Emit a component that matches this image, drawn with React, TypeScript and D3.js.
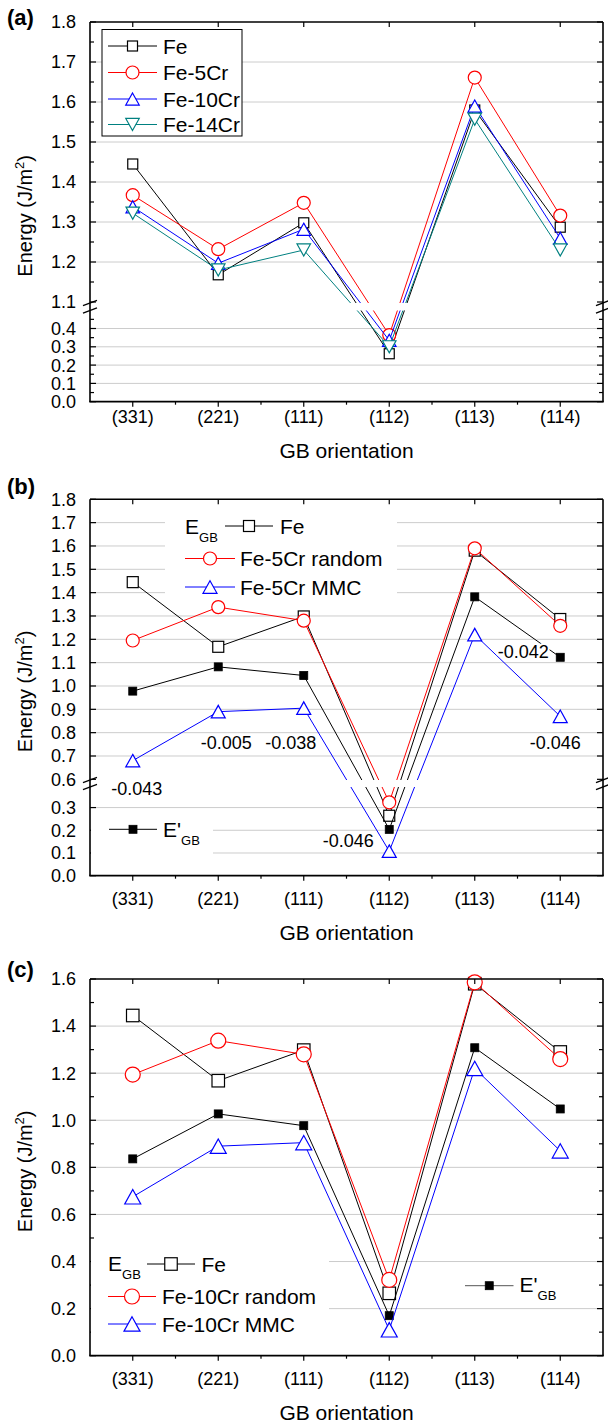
import React from "react";
import * as d3 from "d3";

const categories = ["(331)", "(221)", "(111)", "(112)", "(113)", "(114)"];

// Panel (a)
const feA = [1.445, 1.168, 1.298, 0.262, 1.58, 1.287];
const fe5CrA = [1.367, 1.232, 1.348, 0.364, 1.661, 1.316];
const fe10CrA = [1.338, 1.197, 1.282, 0.335, 1.59, 1.259];
const fe14CrA = [1.322, 1.18, 1.23, 0.3, 1.557, 1.23];

// Panel (b)
const feB = [1.445, 1.168, 1.298, 0.264, 1.58, 1.287];
const fe5CrRandomB = [1.195, 1.338, 1.28, 0.323, 1.59, 1.258];
const fe5CrMmcB = [0.68, 0.89, 0.905, 0.108, 1.22, 0.87];
const ePrimeB = [0.978, 1.082, 1.045, 0.204, 1.382, 1.123];
const annotTextB = ["-0.043", "-0.005", "-0.038", "-0.046", "-0.046", "-0.042"];
const annotCatB = [0, 1, 2, 3, 5, 5];

// Panel (c)
const feC = [1.445, 1.168, 1.298, 0.265, 1.58, 1.29];
const fe10CrRandomC = [1.194, 1.338, 1.28, 0.322, 1.586, 1.26];
const fe10CrMmcC = [0.675, 0.89, 0.905, 0.11, 1.22, 0.87];
const ePrimeC = [0.836, 1.027, 0.977, 0.17, 1.308, 1.048];

// ticks
const yTicksA = [0, 0.1, 0.2, 0.3, 0.4, 1.1, 1.2, 1.3, 1.4, 1.5, 1.6, 1.7, 1.8];
const yMinorA = [0.05, 0.15, 0.25, 0.35, 0.45, 1.15, 1.25, 1.35, 1.45, 1.55, 1.65, 1.75];
const gridA = [0.1, 0.2, 0.3, 0.4, 1.2, 1.3, 1.4, 1.5, 1.6, 1.7];
const yTicksB = [0, 0.1, 0.2, 0.3, 0.6, 0.7, 0.8, 0.9, 1.0, 1.1, 1.2, 1.3, 1.4, 1.5, 1.6, 1.7, 1.8];
const yMinorB: number[] = [];
const gridB = [0.1, 0.2, 0.3, 0.7, 0.8, 0.9, 1.0, 1.1, 1.2, 1.3, 1.4, 1.5, 1.6, 1.7];
const yTicksC = [0, 0.2, 0.4, 0.6, 0.8, 1.0, 1.2, 1.4, 1.6];
const yMinorC = [0.1, 0.3, 0.5, 0.7, 0.9, 1.1, 1.3, 1.5];
const gridC = [0.2, 0.4, 0.6, 0.8, 1.0, 1.2, 1.4];

const FONT = "'Liberation Sans', Arial, Helvetica, sans-serif";
const X0 = 90;
const X1 = 603;
const TEAL = "#008080";

const x = d3.scalePoint<string>().domain(categories).range([X0, X1]).padding(0.5);
const step = x.step();

type MType = "square" | "circle" | "up" | "down" | "filled";

function Marker({ type, cx, cy, size, color }: { type: MType; cx: number; cy: number; size: number; color: string }) {
  const sw = 1.2;
  if (type === "square")
    return <rect x={cx - size / 2} y={cy - size / 2} width={size} height={size} fill="white" stroke={color} strokeWidth={sw} />;
  if (type === "filled")
    return <rect x={cx - size / 2} y={cy - size / 2} width={size} height={size} fill={color} stroke={color} strokeWidth={0.8} />;
  if (type === "circle") return <circle cx={cx} cy={cy} r={size / 2} fill="white" stroke={color} strokeWidth={sw} />;
  const h = size * 0.9;
  const w = size;
  if (type === "up")
    return (
      <path
        d={`M${cx},${cy - h / 2}L${cx + w / 2},${cy + h / 2}L${cx - w / 2},${cy + h / 2}Z`}
        fill="white"
        stroke={color}
        strokeWidth={sw}
      />
    );
  return (
    <path
      d={`M${cx},${cy + h / 2}L${cx + w / 2},${cy - h / 2}L${cx - w / 2},${cy - h / 2}Z`}
      fill="white"
      stroke={color}
      strokeWidth={sw}
    />
  );
}

interface Series {
  values: number[];
  color: string;
  marker: MType;
  size: number;
}

interface PanelProps {
  label: string;
  labelBaseline: number;
  top: number;
  bottom: number;
  y: d3.ScaleLinear<number, number>;
  yTicks: number[];
  yMinor: number[];
  grid: number[];
  series: Series[];
  band?: [number, number];
  tickBaseline: number;
  titleBaseline: number;
  children?: React.ReactNode;
}

function Panel(p: PanelProps) {
  const { top, bottom, y } = p;
  const fmt = d3.format(".1f");
  const line = (vals: number[]) =>
    d3
      .line<number>()
      .x((_, i) => x(categories[i]) as number)
      .y((d) => y(d))(vals) as string;
  return (
    <g>
      <text x={7} y={p.labelBaseline} fontSize={22} fontWeight="bold" fontFamily={FONT}>
        {p.label}
      </text>
      {p.grid.map((g) => (
        <line key={"g" + g} x1={X0} x2={X1} y1={y(g)} y2={y(g)} stroke="#cccccc" strokeWidth={1} />
      ))}
      {p.series.map((s, si) => (
        <g key={"s" + si}>
          <path d={line(s.values)} fill="none" stroke={s.color} strokeWidth={1} />
          {s.values.map((v, i) => (
            <Marker key={i} type={s.marker} cx={x(categories[i]) as number} cy={y(v)} size={s.size} color={s.color} />
          ))}
        </g>
      ))}
      {p.band && <rect x={X0 + 1} y={p.band[0]} width={X1 - X0 - 2} height={p.band[1] - p.band[0]} fill="white" />}
      <line x1={X0} x2={X0} y1={top} y2={bottom} stroke="black" strokeWidth={1.6} />
      <line x1={X1} x2={X1} y1={top} y2={bottom} stroke="black" strokeWidth={1.6} />
      <line x1={X0} x2={X1} y1={top} y2={top} stroke="black" strokeWidth={1.6} />
      <line x1={X0 - 0.8} x2={X1 + 0.8} y1={bottom} y2={bottom} stroke="black" strokeWidth={1.8} />
      {p.yTicks.map((t) => (
        <g key={"yt" + t}>
          <line x1={X0} x2={X0 + 6} y1={y(t)} y2={y(t)} stroke="black" strokeWidth={1.2} />
          <line x1={X1} x2={X1 - 6} y1={y(t)} y2={y(t)} stroke="black" strokeWidth={1.2} />
          <text x={76} y={y(t) + 6.4} fontSize={18} textAnchor="end" fontFamily={FONT}>
            {fmt(t)}
          </text>
        </g>
      ))}
      {p.yMinor.map((t) => (
        <g key={"ym" + t}>
          <line x1={X0} x2={X0 + 4} y1={y(t)} y2={y(t)} stroke="black" strokeWidth={1.2} />
          <line x1={X1} x2={X1 - 4} y1={y(t)} y2={y(t)} stroke="black" strokeWidth={1.2} />
        </g>
      ))}
      {categories.map((c) => (
        <g key={"xt" + c}>
          <line x1={x(c)} x2={x(c)} y1={bottom} y2={bottom + 5} stroke="black" strokeWidth={1.2} />
          <line x1={x(c)} x2={x(c)} y1={top} y2={top + 5} stroke="black" strokeWidth={1.2} />
          <text x={x(c)} y={p.tickBaseline} fontSize={18} textAnchor="middle" fontFamily={FONT}>
            {c}
          </text>
        </g>
      ))}
      {d3.range(1, categories.length).map((k) => (
        <line key={"xm" + k} x1={X0 + step * k} x2={X0 + step * k} y1={bottom} y2={bottom + 3} stroke="black" strokeWidth={1.2} />
      ))}
      {p.band &&
        [X0, X1].map((ax) =>
          p.band!.map((by, j) => (
            <line key={"bk" + ax + j} x1={ax - 7} y1={by + 2.7} x2={ax + 7} y2={by - 2.7} stroke="black" strokeWidth={1.3} />
          ))
        )}
      <text
        transform={`translate(32, ${(top + bottom) / 2 + 4}) rotate(-90)`}
        textAnchor="middle"
        fontSize={20}
        fontFamily={FONT}
      >
        Energy (J/m<tspan dy={-8} fontSize={13}>2</tspan>
        <tspan dy={8}>)</tspan>
      </text>
      <text x={(X0 + X1) / 2} y={p.titleBaseline} fontSize={21} textAnchor="middle" fontFamily={FONT}>
        GB orientation
      </text>
      {p.children}
    </g>
  );
}

function LegendRow({
  x1,
  x2,
  cy,
  type,
  size,
  color,
  lineColor,
}: {
  x1: number;
  x2: number;
  cy: number;
  type: MType;
  size: number;
  color: string;
  lineColor?: string;
}) {
  return (
    <g>
      <line x1={x1} x2={x2} y1={cy} y2={cy} stroke={lineColor || color} strokeWidth={1} />
      <Marker type={type} cx={(x1 + x2) / 2} cy={cy} size={size} color={color} />
    </g>
  );
}

export default function App() {
  const yA = d3.scaleLinear().domain([0, 0.5, 1.08, 1.8]).range([401.7, 310.2, 310, 22]);
  const yB = d3.scaleLinear().domain([0, 0.38, 0.58, 1.8]).range([875.7, 789.4, 784, 499.3]);
  const yC = d3.scaleLinear().domain([0, 1.6]).range([1355.7, 979]);

  const annotOffsets: [number, number][] = [
    [4, 28],
    [8, 31],
    [-13, 34.5],
    [-41, -11],
    [-5, 26],
    [-37, -5.6],
  ];
  const annotAnchorB = [fe5CrMmcB, fe5CrMmcB, fe5CrMmcB, fe5CrMmcB, fe5CrMmcB, ePrimeB];

  return (
    <div style={{ position: "absolute", left: 0, top: 0 }}>
      <svg width={608} height={1425} style={{ display: "block", background: "white" }}>
        <Panel
          label="(a)"
          labelBaseline={25}
          top={22}
          bottom={401.7}
          y={yA}
          yTicks={yTicksA}
          yMinor={yMinorA}
          grid={gridA}
          band={[303, 310.5]}
          tickBaseline={423}
          titleBaseline={458}
          series={[
            { values: feA, color: "black", marker: "square", size: 10 },
            { values: fe5CrA, color: "#ff0000", marker: "circle", size: 13 },
            { values: fe10CrA, color: "#0000ff", marker: "up", size: 13.5 },
            { values: fe14CrA, color: TEAL, marker: "down", size: 13.5 },
          ]}
        >
          <g fontFamily={FONT} fontSize={21}>
            <rect x={102} y={29.5} width={140} height={106.5} fill="white" stroke="black" strokeWidth={1} />
            <LegendRow x1={108} x2={157} cy={46} type="square" size={10} color="black" />
            <text x={163} y={53.5}>Fe</text>
            <LegendRow x1={108} x2={157} cy={72.5} type="circle" size={13} color="#ff0000" />
            <text x={163} y={80}>Fe-5Cr</text>
            <LegendRow x1={108} x2={157} cy={99} type="up" size={13.5} color="#0000ff" />
            <text x={163} y={106.5}>Fe-10Cr</text>
            <LegendRow x1={108} x2={157} cy={124.5} type="down" size={13.5} color={TEAL} />
            <text x={163} y={132}>Fe-14Cr</text>
          </g>
        </Panel>

        <Panel
          label="(b)"
          labelBaseline={494}
          top={499.3}
          bottom={875.7}
          y={yB}
          yTicks={yTicksB}
          yMinor={yMinorB}
          grid={gridB}
          band={[780, 787]}
          tickBaseline={904.5}
          titleBaseline={940}
          series={[
            { values: feB, color: "black", marker: "square", size: 11 },
            { values: fe5CrRandomB, color: "#ff0000", marker: "circle", size: 13 },
            { values: ePrimeB, color: "black", marker: "filled", size: 8 },
            { values: fe5CrMmcB, color: "#0000ff", marker: "up", size: 14 },
          ]}
        >
          <g fontFamily={FONT} fontSize={21}>
            <rect x={165} y={511} width={232} height={89} fill="white" />
            <text x={185} y={534}>
              E<tspan dy={8} fontSize={13}>GB</tspan>
            </text>
            <LegendRow x1={225} x2={273} cy={526} type="square" size={11} color="black" />
            <text x={280} y={533.5}>Fe</text>
            <LegendRow x1={185} x2={235} cy={558.5} type="circle" size={13} color="#ff0000" />
            <text x={240} y={566}>Fe-5Cr random</text>
            <LegendRow x1={185} x2={235} cy={587} type="up" size={14} color="#0000ff" />
            <text x={240} y={594.5}>Fe-5Cr MMC</text>

            <rect x={91} y={812} width={122} height={50} fill="white" />
            <LegendRow x1={109} x2={157} cy={829.3} type="filled" size={8} color="black" />
            <text x={163} y={837}>
              E'<tspan dy={8} fontSize={13}>GB</tspan>
            </text>
          </g>
          <g fontFamily={FONT} fontSize={18} textAnchor="middle">
            {annotTextB.map((t, i) => {
              const cx = (x(categories[annotCatB[i]]) as number) + annotOffsets[i][0];
              const cy = yB(annotAnchorB[i][annotCatB[i]]) + annotOffsets[i][1];
              return (
                <text
                  key={"an" + i}
                  x={cx}
                  y={cy + 6.4}
                  stroke={i === 5 ? "white" : "none"}
                  strokeWidth={i === 5 ? 4 : 0}
                  paintOrder="stroke"
                  fill="black"
                >
                  {t}
                </text>
              );
            })}
          </g>
        </Panel>

        <Panel
          label="(c)"
          labelBaseline={977}
          top={979}
          bottom={1355.7}
          y={yC}
          yTicks={yTicksC}
          yMinor={yMinorC}
          grid={gridC}
          tickBaseline={1384.5}
          titleBaseline={1420}
          series={[
            { values: feC, color: "black", marker: "square", size: 12.5 },
            { values: fe10CrRandomC, color: "#ff0000", marker: "circle", size: 15 },
            { values: ePrimeC, color: "black", marker: "filled", size: 8 },
            { values: fe10CrMmcC, color: "#0000ff", marker: "up", size: 16 },
          ]}
        >
          <g fontFamily={FONT} fontSize={21}>
            <rect x={91} y={1240} width={238} height={102} fill="white" />
            <text x={108} y={1271}>
              E<tspan dy={8} fontSize={13}>GB</tspan>
            </text>
            <LegendRow x1={147} x2={195} cy={1264} type="square" size={12.5} color="black" />
            <text x={201.5} y={1271.5}>Fe</text>
            <LegendRow x1={108} x2={156} cy={1296.5} type="circle" size={15} color="#ff0000" />
            <text x={162} y={1304}>Fe-10Cr random</text>
            <LegendRow x1={108} x2={156} cy={1324} type="up" size={16} color="#0000ff" />
            <text x={162} y={1331.5}>Fe-10Cr MMC</text>

            <LegendRow x1={465} x2={513.5} cy={1285.7} type="filled" size={8} color="black" lineColor="#555555" />
            <text x={519.5} y={1292}>
              E'<tspan dy={8} fontSize={13}>GB</tspan>
            </text>
          </g>
        </Panel>
      </svg>
    </div>
  );
}
